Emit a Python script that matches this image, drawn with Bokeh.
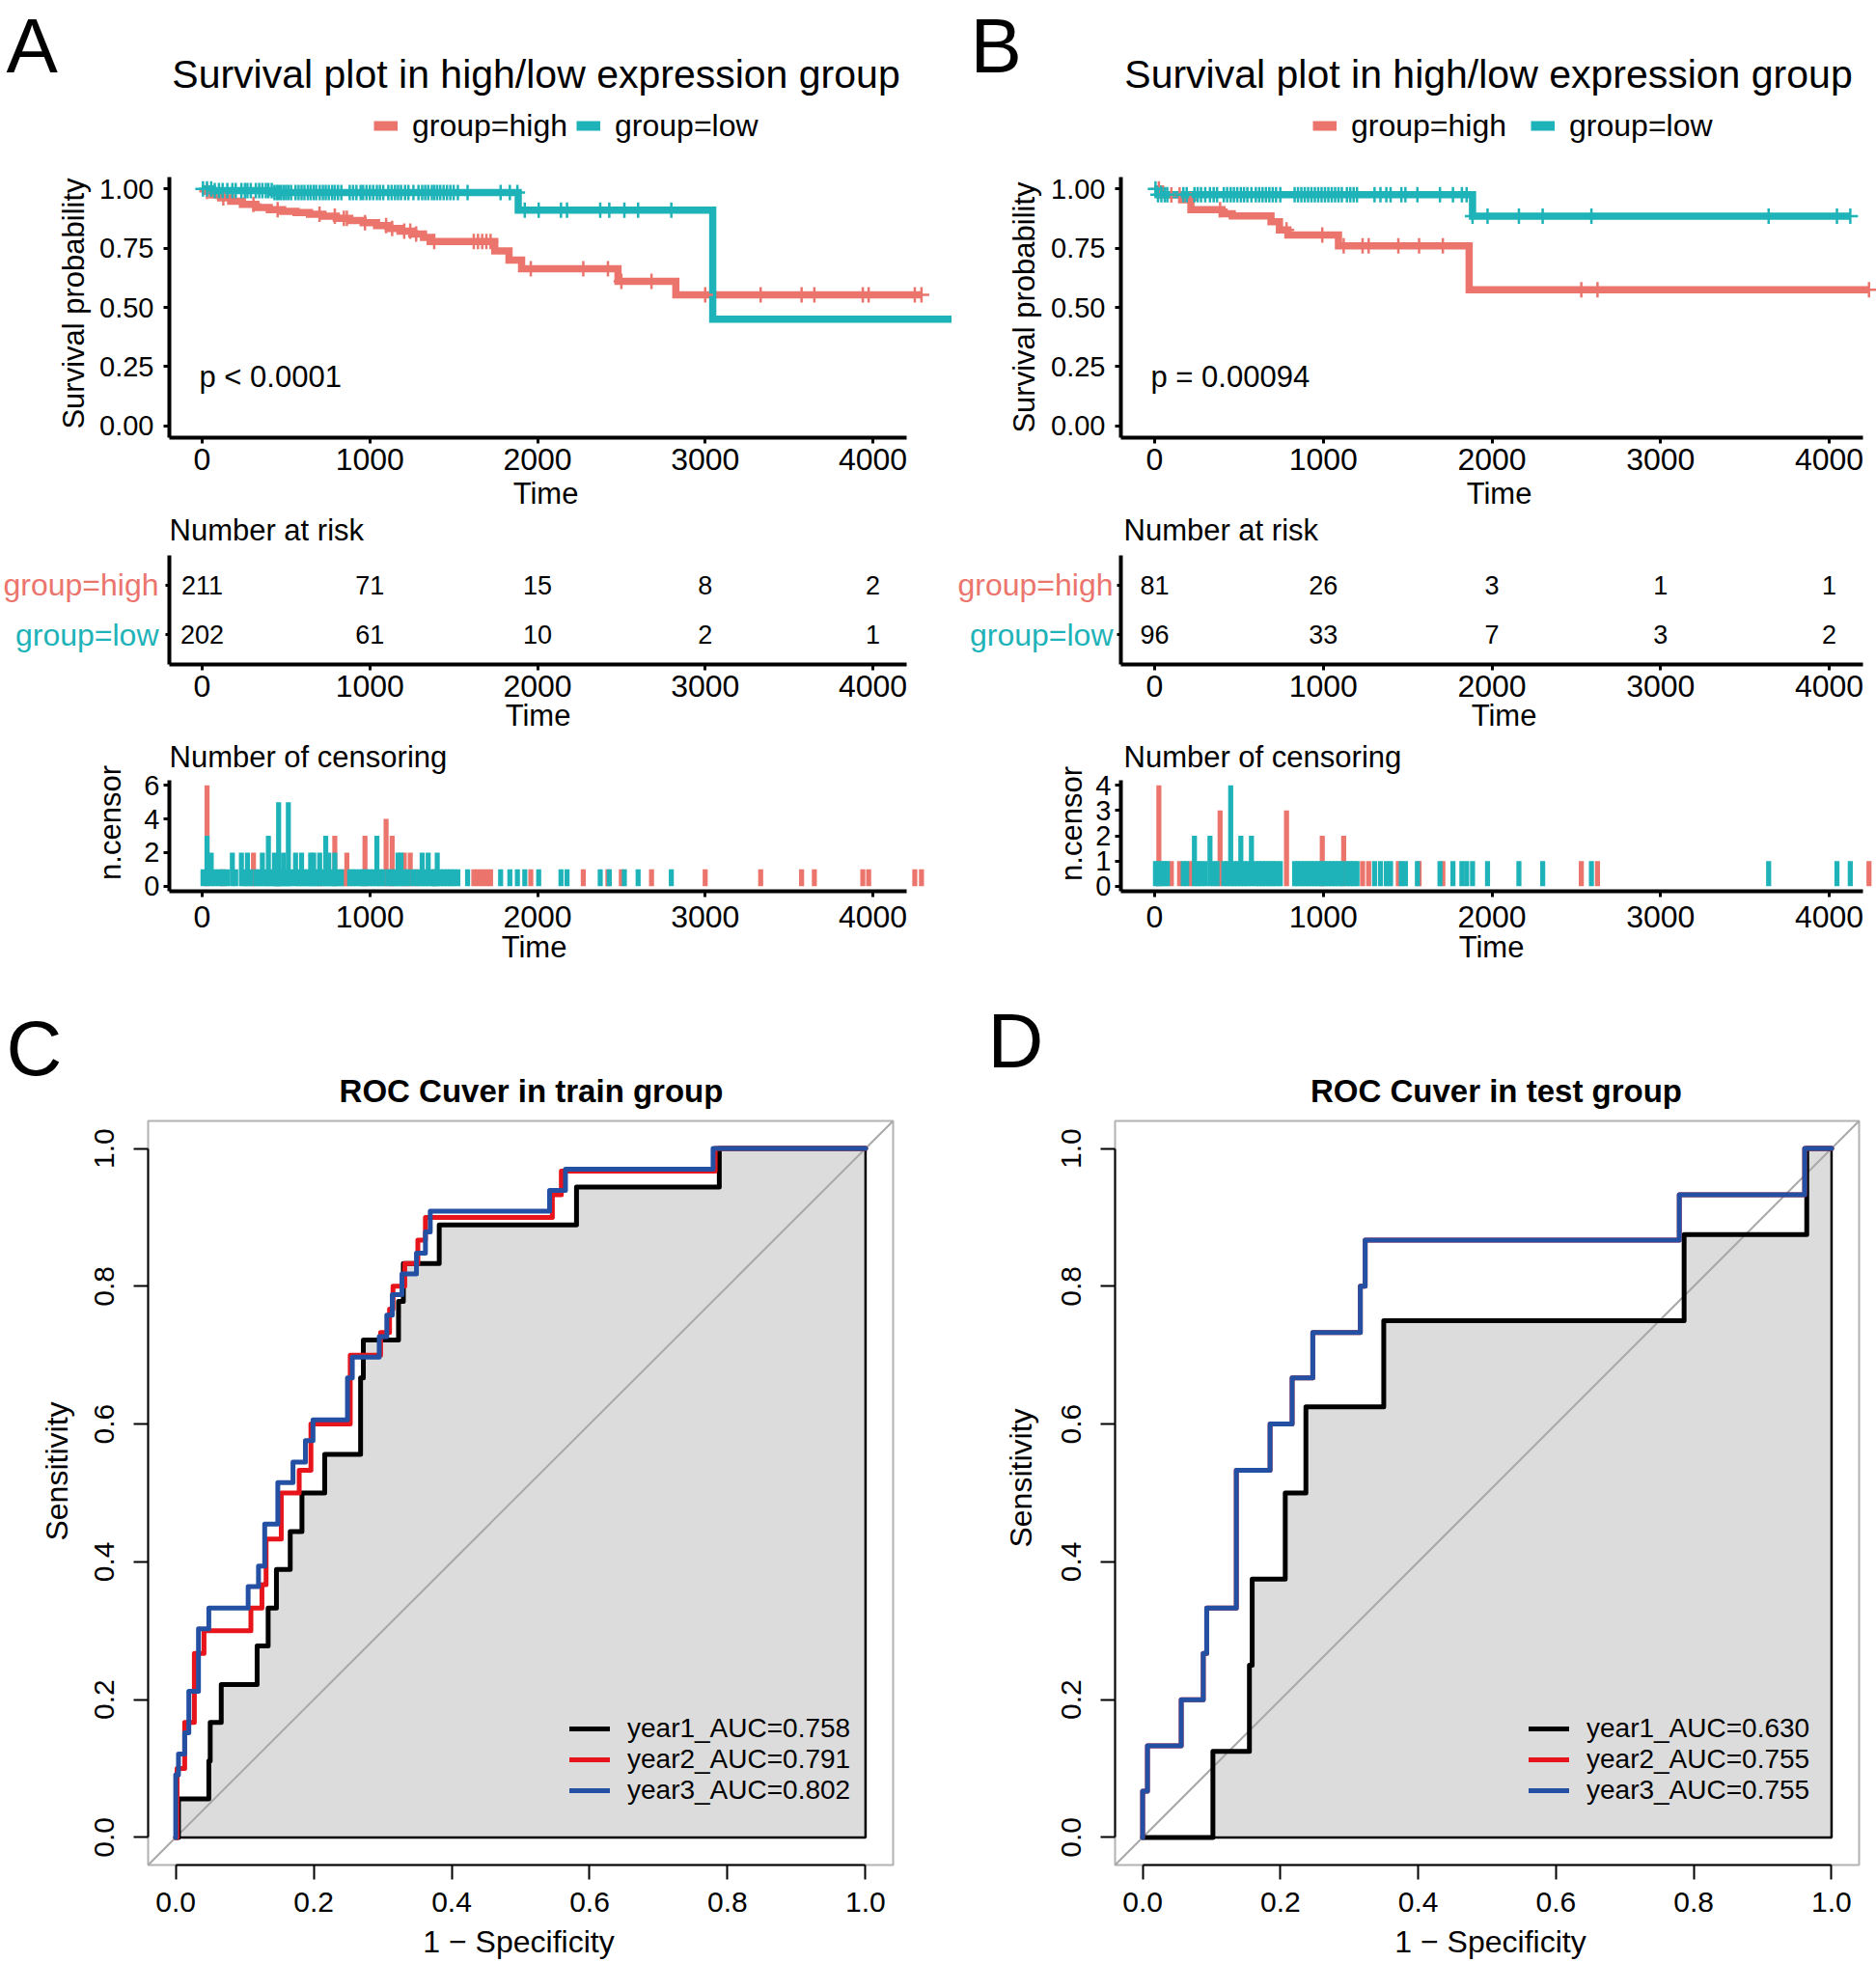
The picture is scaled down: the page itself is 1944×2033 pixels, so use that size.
import numpy as np
from bokeh.plotting import figure
from bokeh.models import (Label, Legend, LegendItem, FixedTicker, PrintfTickFormatter,
                          ColumnDataSource, Range1d, BoxAnnotation)
from bokeh.layouts import row, column
from bokeh.embed import file_html
from bokeh.resources import INLINE
from bokeh.core.properties import value

FONT = "Liberation Sans"
RED = "#EB756C"
TEAL = "#1EB3B8"
ROC_COLORS = ["#000000", "#E8141B", "#2450A4"]
ROC_FILL = "#DCDCDC"
DIAG = "#A8A8A8"

# ---------------- data ----------------
TIME_TICKS = [0, 1000, 2000, 3000, 4000]
KM_Y_TICKS = [0, 0.25, 0.5, 0.75, 1.0]
GROUPS = ["group=high", "group=low"]
KM_TITLE = "Survival plot in high/low expression group"

# Panel A (train)
A_PVAL = "p < 0.0001"
A_HIGH_T = [0, 20, 60, 110, 170, 240, 320, 400, 480, 560, 640, 720, 800, 880, 960, 1040,
            1110, 1180, 1250, 1320, 1360, 1745, 1830, 1905, 2480, 2825]
A_HIGH_S = [1.0, 0.99, 0.975, 0.962, 0.948, 0.935, 0.922, 0.912, 0.905, 0.9, 0.893, 0.885,
            0.876, 0.867, 0.858, 0.845, 0.833, 0.822, 0.81, 0.795, 0.778, 0.738, 0.70, 0.663,
            0.61, 0.553]
A_HIGH_END = 4290
A_LOW_T = [0, 60, 420, 1885, 3045]
A_LOW_S = [1.0, 0.993, 0.985, 0.91, 0.45]
A_LOW_END = 4530
A_RISK_HIGH = [211, 71, 15, 8, 2]
A_RISK_LOW = [202, 61, 10, 2, 1]
A_CENS_HIGH_T = [29, 126, 306, 450, 700, 791, 845, 863, 971, 1097, 1133, 1205, 1241, 1276,
                 1384, 1620, 1645, 1670, 1695, 1720, 1960, 2273, 2420, 2500, 2680, 3000, 3331,
                 3575, 3651, 3940, 3975, 4250, 4290]
A_CENS_HIGH_N = [6, 1, 2, 1, 1, 3, 1, 2, 3, 4, 3, 2, 2, 1, 1, 1, 1, 1, 1, 1, 1, 1, 1, 1, 1,
                 1, 1, 1, 1, 1, 1, 1, 1]
A_CENS_LOW_T = [5, 29, 54, 75, 100, 122, 150, 180, 200, 234, 255, 270, 290, 320, 340, 359,
                380, 395, 415, 431, 445, 456, 470, 485, 500, 514, 530, 557, 575, 593, 610,
                630, 647, 665, 680, 701, 720, 737, 755, 775, 791, 810, 830, 880, 900, 920,
                945, 960, 980, 1000, 1020, 1042, 1060, 1080, 1110, 1130, 1150, 1168, 1186,
                1210, 1230, 1260, 1290, 1312, 1330, 1348, 1370, 1385, 1402, 1420, 1440, 1460,
                1480, 1500, 1525, 1583, 1780, 1835, 1880, 1924, 2007, 2140, 2176, 2374, 2428,
                2518, 2600, 2798, 4530]
A_CENS_LOW_N = [1, 3, 2, 1, 1, 1, 1, 2, 1, 2, 1, 2, 1, 1, 1, 2, 1, 3, 1, 2,
                1, 5, 1, 2, 1, 5, 1, 2, 1, 2, 1, 1, 2, 2, 1, 2, 1, 3, 2, 1,
                2, 1, 1, 1, 1, 1, 1, 1, 1, 1, 1, 3, 1, 1, 1, 1, 1, 2, 2, 1,
                1, 1, 1, 2, 1, 2, 1, 1, 2, 1, 1, 1, 1, 1, 1, 1, 1, 1, 1, 1,
                1, 1, 1, 1, 1, 1, 1, 1, 1]
A_CENS_TICKS = [0, 2, 4, 6]

# Panel B (test)
B_PVAL = "p = 0.00094"
B_HIGH_T = [0, 35, 160, 215, 400, 460, 690, 740, 790, 1090, 1865]
B_HIGH_S = [1.0, 0.975, 0.954, 0.912, 0.895, 0.886, 0.862, 0.827, 0.806, 0.76, 0.574]
B_HIGH_END = 4236
B_LOW_T = [0, 20, 1885]
B_LOW_S = [1.0, 0.976, 0.885]
B_LOW_END = 4125
B_RISK_HIGH = [81, 26, 3, 1, 1]
B_RISK_LOW = [96, 33, 7, 3, 2]
B_CENS_HIGH_T = [25, 99, 148, 212, 388, 782, 994, 1121, 1233, 1269, 1445, 1568, 1709, 2530,
                 2626, 4236]
B_CENS_HIGH_N = [4, 1, 1, 1, 3, 3, 2, 2, 1, 1, 1, 1, 1, 1, 1, 1]
B_CENS_LOW_T = [5, 20, 40, 60, 75, 170, 190, 236, 255, 275, 300, 328, 350, 370, 410, 430,
                451, 470, 490, 511, 530, 550, 574, 600, 620, 640, 660, 680, 700, 720, 745,
                830, 850, 870, 890, 910, 930, 950, 970, 990, 1010, 1030, 1050, 1070, 1090,
                1110, 1140, 1160, 1180, 1200, 1304, 1339, 1374, 1399, 1463, 1487, 1558, 1692,
                1769, 1822, 1850, 1885, 1974, 2160, 2301, 2590, 3641, 4046, 4125]
B_CENS_LOW_N = [1, 1, 1, 1, 1, 1, 1, 2, 1, 1, 1, 2, 1, 1, 1, 1, 4, 1, 1, 2,
                1, 1, 2, 1, 1, 1, 1, 1, 1, 1, 1, 1, 1, 1, 1, 1, 1, 1, 1, 1,
                1, 1, 1, 1, 1, 1, 1, 1, 1, 1, 1, 1, 1, 1, 1, 1, 1, 1, 1, 1,
                1, 1, 1, 1, 1, 1, 1, 1, 1]
B_CENS_TICKS = [0, 1, 2, 3, 4]

# ROC curves (points of the ROC step curve: 1-specificity, sensitivity)
ROC_TICKS = [0.0, 0.2, 0.4, 0.6, 0.8, 1.0]
C_TITLE = "ROC Cuver in train group"
D_TITLE = "ROC Cuver in test group"
C_LABELS = ["year1_AUC=0.758", "year2_AUC=0.791", "year3_AUC=0.802"]
D_LABELS = ["year1_AUC=0.630", "year2_AUC=0.755", "year3_AUC=0.755"]
C_Y1_FPR = [0, 0.004, 0.048, 0.05, 0.066, 0.118, 0.134, 0.146, 0.166, 0.183, 0.216, 0.268,
            0.272, 0.323, 0.33, 0.382, 0.581, 0.788, 1.0]
C_Y1_TPR = [0, 0.056, 0.111, 0.167, 0.222, 0.278, 0.333, 0.389, 0.444, 0.5, 0.556, 0.667,
            0.722, 0.778, 0.833, 0.889, 0.944, 1.0, 1.0]
C_Y2_FPR = [0, 0.002, 0.013, 0.027, 0.041, 0.109, 0.125, 0.131, 0.153, 0.179, 0.196, 0.253,
            0.297, 0.31, 0.315, 0.332, 0.351, 0.362, 0.546, 0.559, 0.782, 1.0]
C_Y2_TPR = [0, 0.1, 0.167, 0.267, 0.3, 0.333, 0.367, 0.433, 0.5, 0.533, 0.6, 0.7, 0.733,
            0.767, 0.8, 0.833, 0.867, 0.9, 0.933, 0.967, 1.0, 1.0]
C_Y3_FPR = [0, 0.0, 0.004, 0.013, 0.019, 0.033, 0.048, 0.105, 0.12, 0.129, 0.148, 0.17,
            0.188, 0.199, 0.249, 0.256, 0.295, 0.306, 0.314, 0.328, 0.349, 0.362, 0.369,
            0.542, 0.565, 0.779, 1.0]
C_Y3_TPR = [0, 0.091, 0.121, 0.152, 0.212, 0.303, 0.333, 0.364, 0.394, 0.455, 0.515, 0.545,
            0.576, 0.606, 0.667, 0.697, 0.727, 0.758, 0.788, 0.818, 0.848, 0.879, 0.909,
            0.939, 0.97, 1.0, 1.0]
D_Y1_FPR = [0, 0.102, 0.155, 0.159, 0.207, 0.237, 0.35, 0.786, 0.964, 1.0]
D_Y1_TPR = [0, 0.125, 0.25, 0.375, 0.5, 0.625, 0.75, 0.875, 1.0, 1.0]
D_Y3_FPR = [0, 0.0, 0.007, 0.056, 0.088, 0.093, 0.136, 0.185, 0.217, 0.247, 0.316, 0.323,
            0.779, 0.961, 1.0]
D_Y3_TPR = [0, 0.067, 0.133, 0.2, 0.267, 0.333, 0.533, 0.6, 0.667, 0.733, 0.8, 0.867,
            0.933, 1.0, 1.0]
D_Y2_FPR = list(D_Y3_FPR)
D_Y2_TPR = list(D_Y3_TPR)

# ---------------- layout geometry (page pixel positions) ----------------
COL_A = dict(ox=0, w=986, fl=175, t0=209, t4000=904, axis_end=4201)
COL_B = dict(ox=986, w=958, fl=1161, t0=1196, t4000=1895, axis_end=4200)
ROW_KM = dict(oy=0, h=530, top=183, bot=453)
ROW_RISK = dict(oy=530, h=232, top=575, bot=688)
ROW_CENS = dict(oy=762, h=248, top=808, bot=923)
ROW_ROC = dict(oy=1010, h=1020, top=1161, bot=1932)
LETTER_SIZE = 80


def lin(p0, v0, p1, v1):
    s = (v1 - v0) / (p1 - p0)
    return lambda px: v0 + (px - p0) * s


class Canvas:
    """A figure whose frame fills the whole figure; page pixel -> data mapping."""

    def __init__(self, ox, w, oy, h, fx, fy):
        self.ox, self.w, self.oy, self.h = ox, w, oy, h
        self.p = figure(width=w, height=h, x_range=Range1d(fx(ox), fx(ox + w)),
                        y_range=Range1d(fy(oy + h), fy(oy)), output_backend="svg",
                        toolbar_location=None, min_border_left=0, min_border_right=0,
                        min_border_top=0, min_border_bottom=0)
        p = self.p
        p.outline_line_color = None
        p.xgrid.visible = False
        p.ygrid.visible = False
        p.background_fill_color = "white"
        p.border_fill_color = "white"

    def label(self, text, X, Y, size, color="black", align="left", angle=0.0, bold=False,
              y_data=None):
        kw = dict(x=X - self.ox, x_units="screen", text=text, text_font=FONT,
                  text_font_size=f"{size}px", text_color=color, text_align=align,
                  text_baseline="middle", angle=angle,
                  text_font_style="bold" if bold else "normal")
        if y_data is None:
            kw.update(y=self.oy + self.h - Y, y_units="screen")
        else:
            kw.update(y=y_data, y_units="data")
        self.p.add_layout(Label(**kw))


def style_axis(ax, size=29, standoff=0, tick_out=6, line_w=4, tick_w=3):
    ax.axis_line_width = line_w
    ax.axis_line_color = "black"
    ax.major_tick_out = tick_out
    ax.major_tick_in = 0
    ax.major_tick_line_width = tick_w
    ax.major_tick_line_color = "black"
    ax.minor_tick_line_color = None
    ax.major_label_text_font = FONT
    ax.major_label_text_font_size = f"{size}px"
    ax.major_label_text_color = "black"
    ax.major_label_standoff = standoff


def time_canvas(col, rg, vmin, vmax):
    fx = lin(col["t0"], 0.0, col["t4000"], 4000.0)
    fy = lin(rg["bot"], vmin, rg["top"], vmax)
    cv = Canvas(col["ox"], col["w"], rg["oy"], rg["h"], fx, fy)
    p = cv.p
    x_left = fx(col["fl"])
    p.xaxis.fixed_location = vmin
    p.xaxis.bounds = (x_left, col["axis_end"])
    p.xaxis.ticker = FixedTicker(ticks=TIME_TICKS)
    p.yaxis.fixed_location = x_left
    p.yaxis.bounds = (vmin, vmax)
    style_axis(p.xaxis[0], size=32, standoff=5)
    style_axis(p.yaxis[0], size=29)
    return cv


def surv_at(times, surv, t):
    idx = np.searchsorted(np.asarray(times), np.asarray(t), side="right") - 1
    return np.asarray(surv)[idx]


def km_column(col, letter, letter_x, letter_cy, title_cx, pval, high, low, risk_high,
              risk_low, cens_high, cens_low, cens_ticks, leg_x, leg_spacing, rowlab_right,
              time_cx, ylab_x, ylab_cy, ncens_x, ncens_cy, head_x):
    # ---- KM plot ----
    cv = time_canvas(col, ROW_KM, -0.05, 1.05)
    p = cv.p
    p.yaxis.ticker = FixedTicker(ticks=KM_Y_TICKS)
    p.yaxis.formatter = PrintfTickFormatter(format="%.2f")
    p.yaxis.major_label_standoff = 10
    curves = [(high, cens_high, RED), (low, cens_low, TEAL)]
    leg_r = []
    for (t, s, end), (ct, cn), colr in curves:
        xs = list(t) + [end]
        ys = list(s) + [s[-1]]
        p.step(xs, ys, mode="after", line_width=7.5, line_color=colr, line_join="miter")
        # legend key only (a single undefined point draws nothing in the plot)
        leg_r.append(p.line(x=np.array([np.nan]), y=np.array([np.nan]), line_width=10,
                            line_color=colr))
    for (t, s, end), (ct, cn), colr in curves:
        p.scatter(ct, surv_at(t, s, ct), marker="cross", size=16, line_width=2.5,
                  line_color=colr)
    leg = Legend(items=[LegendItem(label=GROUPS[0], renderers=[leg_r[0]]),
                        LegendItem(label=GROUPS[1], renderers=[leg_r[1]])],
                 location=(leg_x - cv.ox, cv.oy + cv.h - 148.5), orientation="horizontal",
                 glyph_width=25, glyph_height=20, label_standoff=15, spacing=leg_spacing,
                 padding=0, margin=0, label_text_font=FONT, label_text_font_size="32px",
                 label_text_color="black", background_fill_alpha=0, border_line_color=None)
    p.add_layout(leg)
    cv.label(letter, letter_x, letter_cy, LETTER_SIZE)
    cv.label(KM_TITLE, title_cx, 76, 41, align="center")
    cv.label(pval, col["fl"] + 31, 390, 31)
    cv.label("Survival probability", ylab_x, ylab_cy, 31, align="center", angle=np.pi / 2)
    cv.label("Time", time_cx[0], 511, 31, align="center")

    # ---- risk table ----
    rv = time_canvas(col, ROW_RISK, 0.4, 2.6)
    q = rv.p
    q.yaxis.ticker = FixedTicker(ticks=[1, 2])
    q.yaxis.major_label_overrides = {1: "", 2: ""}
    q.yaxis.major_tick_out = 4
    src = ColumnDataSource(dict(x=TIME_TICKS * 2, y=[2] * len(TIME_TICKS) + [1] * len(TIME_TICKS),
                                n=[str(v) for v in risk_high + risk_low]))
    q.text(x="x", y="y", text="n", source=src, text_font=value(FONT), text_font_size="27px",
           text_align="center", text_baseline="middle", text_color="black")
    rv.label("Number at risk", head_x, 549, 31)
    rv.label(GROUPS[0], rowlab_right, 0, 32, color=RED, align="right", y_data=2)
    rv.label(GROUPS[1], rowlab_right, 0, 32, color=TEAL, align="right", y_data=1)
    rv.label("Time", time_cx[1], 741, 31, align="center")

    # ---- censoring ----
    top = cens_ticks[-1]
    pad = top * 0.05
    nv = time_canvas(col, ROW_CENS, -pad, top + pad)
    c = nv.p
    c.yaxis.ticker = FixedTicker(ticks=cens_ticks)
    c.yaxis.major_label_standoff = 4
    c.xaxis.major_label_standoff = 9
    for (ct, cn), colr in [(cens_high, RED), (cens_low, TEAL)]:
        c.vbar(x=ct, top=cn, bottom=0, width=30, fill_color=colr, line_color=None)
    nv.label("Number of censoring", head_x, 784, 31)
    nv.label("n.censor", ncens_x, ncens_cy, 31, align="center", angle=np.pi / 2)
    nv.label("Time", time_cx[2], 981, 31, align="center")
    return p, q, c


def stair(xs, ys):
    vx, vy = [xs[0]], [ys[0]]
    for i in range(1, len(xs)):
        vx += [xs[i], xs[i]]
        vy += [ys[i - 1], ys[i]]
    return vx, vy


def roc_fig(ox, w, fl, fr, letter, letter_x, letter_cy, title, title_cx, curves, labels,
            leg_x, sens_x, sens_cy, spec_cx):
    r = ROW_ROC
    lo, hi = -0.04, 1.04
    fx = lin(fl, lo, fr, hi)
    fy = lin(r["bot"], lo, r["top"], hi)
    cv = Canvas(ox, w, r["oy"], r["h"], fx, fy)
    p = cv.p
    p.add_layout(BoxAnnotation(left=lo, right=hi, bottom=lo, top=hi, fill_color=None,
                               line_color="black", line_width=2, level="underlay"))
    p.xaxis.fixed_location = lo
    p.yaxis.fixed_location = lo
    for ax in (p.xaxis[0], p.yaxis[0]):
        ax.ticker = FixedTicker(ticks=ROC_TICKS)
        ax.formatter = PrintfTickFormatter(format="%.1f")
        ax.bounds = (ROC_TICKS[0], ROC_TICKS[-1])
        style_axis(ax, size=30, tick_out=15, line_w=2, tick_w=2)
    p.xaxis.major_label_standoff = 13
    p.yaxis.major_label_standoff = 20
    p.yaxis.major_label_orientation = "vertical"
    vx, vy = stair(*curves[0])
    p.patch(vx + [vx[-1]], vy + [vy[0]], fill_color=ROC_FILL, line_color="black",
            line_width=2.5)
    p.line([lo, hi], [lo, hi], line_color=DIAG, line_width=2)
    rends = []
    for (fxs, tys), colr in zip(curves, ROC_COLORS):
        rends.append(p.step(fxs, tys, mode="after", line_color=colr, line_width=5,
                            line_cap="round", line_join="round"))
    leg = Legend(items=[LegendItem(label=l, renderers=[rr]) for l, rr in zip(labels, rends)],
                 location=(leg_x - ox, r["oy"] + r["h"] - 1871), orientation="vertical",
                 glyph_width=42, glyph_height=30, label_height=30, label_standoff=18,
                 spacing=0, padding=0, margin=0, label_text_font=FONT,
                 label_text_font_size="28px", label_text_color="black",
                 background_fill_alpha=0, border_line_color=None)
    p.add_layout(leg)
    cv.label(letter, letter_x, letter_cy, LETTER_SIZE)
    cv.label(title, title_cx, 1130, 33, align="center", bold=True)
    cv.label("Sensitivity", sens_x, sens_cy, 32, align="center", angle=np.pi / 2)
    cv.label("1 \u2212 Specificity", spec_cx, 2011, 32, align="center")
    return p


a1, a2, a3 = km_column(COL_A, "A", 6, 47, 555, A_PVAL,
                       (A_HIGH_T, A_HIGH_S, A_HIGH_END), (A_LOW_T, A_LOW_S, A_LOW_END),
                       A_RISK_HIGH, A_RISK_LOW, (A_CENS_HIGH_T, A_CENS_HIGH_N),
                       (A_CENS_LOW_T, A_CENS_LOW_N), A_CENS_TICKS, 387, 9, 164,
                       (565, 557, 553), 76, 314, 114, 852, 175)
b1, b2, b3 = km_column(COL_B, "B", 1005, 47, 1542, B_PVAL,
                       (B_HIGH_T, B_HIGH_S, B_HIGH_END), (B_LOW_T, B_LOW_S, B_LOW_END),
                       B_RISK_HIGH, B_RISK_LOW, (B_CENS_HIGH_T, B_CENS_HIGH_N),
                       (B_CENS_LOW_T, B_CENS_LOW_N), B_CENS_TICKS, 1360, 25, 1153,
                       (1553, 1558, 1545), 1061, 318, 1110, 853, 1164)
c = roc_fig(0, 986, 153, 925, "C", 6, 1086, C_TITLE, 550,
            [(C_Y1_FPR, C_Y1_TPR), (C_Y2_FPR, C_Y2_TPR), (C_Y3_FPR, C_Y3_TPR)], C_LABELS,
            590, 58, 1524, 537)
d = roc_fig(986, 958, 1155, 1926, "D", 1023, 1078, D_TITLE, 1550,
            [(D_Y1_FPR, D_Y1_TPR), (D_Y2_FPR, D_Y2_TPR), (D_Y3_FPR, D_Y3_TPR)], D_LABELS,
            1584, 1057, 1531, 1544)

layout = column(row(a1, b1), row(a2, b2), row(a3, b3), row(c, d))
open("out.html", "w").write(file_html(layout, INLINE, title="Survival and ROC"))
